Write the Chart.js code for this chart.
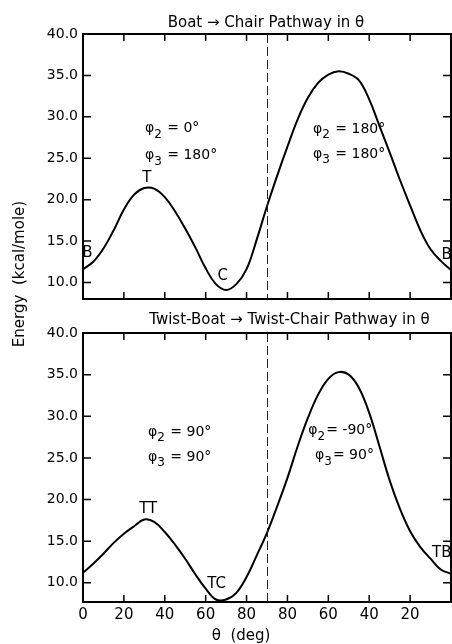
<!DOCTYPE html>
<html><head><meta charset="utf-8">
<script src="https://cdn.jsdelivr.net/npm/chart.js@4.4.0/dist/chart.umd.min.js"></script>
<style>
html,body{margin:0;padding:0;background:#fff;}
#wrap{position:relative;width:452px;height:644px;overflow:hidden;}
canvas{position:absolute;left:0;top:0;}
</style></head><body>
<div id="wrap"><canvas id="c1" width="452" height="644"></canvas><canvas id="c2" width="452" height="644"></canvas></div>
<script>
// ---- data (theta runs 0→90 then back 90→0, plotted on a 0–180 path axis) ----
const pathTheta = [0,5,10,15,20,25,30,35,40,45,50,55,60,65,70,75,80,85,90,95,100,105,110,115,120,125,130,135,140,145,150,155,160,165,170,175,180];
const topEnergy = [11.6,12.5,14.1,16.3,18.8,20.6,21.4,21.3,20.3,18.6,16.5,14.2,11.7,9.8,9.1,9.8,11.6,15.2,19.2,22.9,26.4,29.7,32.3,34.1,35.1,35.5,35.2,34.4,32.1,28.9,25.7,22.4,19.3,16.3,14.0,12.6,11.5];
const botEnergy = [11.2,12.3,13.5,14.8,15.9,16.8,17.6,17.3,16.1,14.6,12.9,11.0,9.3,8.0,8.0,8.8,10.7,13.3,16.0,19.2,22.6,26.4,29.8,32.6,34.5,35.3,35.0,33.4,30.4,26.4,22.3,18.9,16.2,14.3,12.9,11.6,11.1];

const yTickValues = [10,15,20,25,30,35,40];
const xTickValues = [0,20,40,60,80,100,120,140,160,180];
const xTickLabels = ['0','20','40','60','80','80','60','40','20',''];
const turnTheta = 90;

const topTitle = 'Boat \u2192 Chair Pathway in \u03b8';
const bottomTitle = 'Twist-Boat \u2192 Twist-Chair Pathway in \u03b8';
const yAxisTitle = 'Energy  (kcal/mole)';
const xAxisTitle = '\u03b8  (deg)';
const topPointLabels = ['B','T','C','B'];
const bottomPointLabels = ['TT','TC','TB'];
const topAngleLabels = [['\u03c6','2',' = 0\u00b0'],['\u03c6','3',' = 180\u00b0'],['\u03c6','2',' = 180\u00b0'],['\u03c6','3',' = 180\u00b0']];
const bottomAngleLabels = [['\u03c6','2',' = 90\u00b0'],['\u03c6','3',' = 90\u00b0'],['\u03c6','2','= -90\u00b0'],['\u03c6','3','= 90\u00b0']];

// label anchors in data coordinates (path-theta, energy)
const topPointAnchors = [[2.2,13.5],[31.2,22.6],[68.3,10.8],[177.9,13.3]];
const bottomPointAnchors = [[31.9,18.8],[65.4,9.9],[175.5,13.6]];
const topAngleAnchors = [[30.3,28.6],[30.3,25.3],[112.5,28.5],[112.5,25.5]];
const bottomAngleAnchors = [[31.8,28.1],[31.8,25.1],[110.2,28.3],[113.5,25.3]];

const FONT = '"DejaVu Sans", "Liberation Sans", sans-serif';

function drawRich(ctx, x, y, parts) {
  ctx.textBaseline = 'middle'; ctx.textAlign = 'left';
  ctx.font = '14px ' + FONT;
  ctx.fillText(parts[0], x, y);
  x += ctx.measureText(parts[0]).width;
  ctx.font = '12px ' + FONT;
  ctx.fillText(parts[1], x, y + 6);
  x += ctx.measureText(parts[1]).width + 1;
  ctx.font = '14px ' + FONT;
  ctx.fillText(parts[2], x, y);
}

function panelPlugin(cfg) {
  return {
    id: 'panel' + cfg.name,
    afterDraw(chart) {
      const ctx = chart.ctx, a = chart.chartArea;
      const xs = chart.scales.x, ys = chart.scales.y;
      ctx.save();
      // dashed turning line
      ctx.strokeStyle = '#222'; ctx.lineWidth = 1; ctx.setLineDash([9,4]);
      const xd = Math.round(xs.getPixelForValue(turnTheta)) + 0.5;
      ctx.beginPath(); ctx.moveTo(xd, a.top); ctx.lineTo(xd, a.bottom); ctx.stroke();
      ctx.setLineDash([]);
      // frame
      ctx.strokeStyle = '#000'; ctx.lineWidth = 2;
      ctx.strokeRect(a.left, a.top, a.right - a.left, a.bottom - a.top);
      // inward ticks
      ctx.lineWidth = 1.5;
      xTickValues.forEach(v => {
        if (v <= 0 || v >= 180) return;
        const px = xs.getPixelForValue(v);
        ctx.beginPath();
        ctx.moveTo(px, a.top); ctx.lineTo(px, a.top + 7);
        ctx.moveTo(px, a.bottom); ctx.lineTo(px, a.bottom - 7);
        ctx.stroke();
      });
      yTickValues.forEach(v => {
        const py = ys.getPixelForValue(v);
        if (py <= a.top + 1) return;
        ctx.beginPath();
        ctx.moveTo(a.left, py); ctx.lineTo(a.left + 8, py);
        ctx.moveTo(a.right, py); ctx.lineTo(a.right - 8, py);
        ctx.stroke();
      });
      // title
      ctx.fillStyle = '#000';
      ctx.font = '15px ' + FONT; ctx.textAlign = 'center'; ctx.textBaseline = 'middle';
      ctx.fillText(cfg.title, xs.getPixelForValue(cfg.titleAt), a.top - cfg.titleGap);
      // point labels
      ctx.font = '15px ' + FONT;
      cfg.pointLabels.forEach((t, i) => {
        const p = cfg.pointAnchors[i];
        ctx.fillText(t, xs.getPixelForValue(p[0]), ys.getPixelForValue(p[1]));
      });
      // angle labels
      cfg.angleLabels.forEach((parts, i) => {
        const p = cfg.angleAnchors[i];
        drawRich(ctx, xs.getPixelForValue(p[0]), ys.getPixelForValue(p[1]), parts);
      });
      if (cfg.extra) cfg.extra(chart, ctx);
      ctx.restore();
    }
  };
}

function makeChart(id, thetas, energies, yMin, padding, showX, plugin) {
  return new Chart(document.getElementById(id), {
    type: 'line',
    data: { datasets: [{
      data: thetas.map((t, i) => ({x: t, y: energies[i]})),
      borderColor: '#000', borderWidth: 2, pointRadius: 0,
      tension: 0.4, fill: false
    }]},
    options: {
      responsive: false, animation: false, devicePixelRatio: 1,
      layout: { padding: padding },
      plugins: { legend: {display: false}, tooltip: {enabled: false}, title: {display: false} },
      scales: {
        x: {
          type: 'linear', min: 0, max: 180, display: showX,
          grid: {display: false, drawTicks: false}, border: {display: false},
          afterBuildTicks: s => { s.ticks = xTickValues.map(v => ({value: v})); },
          afterFit: s => { s.height = showX ? 42 : 0; s.paddingLeft = 0; s.paddingRight = 0; },
          ticks: { autoSkip: false, maxRotation: 0, padding: 4, color: '#000',
                   font: {family: FONT, size: 15},
                   callback: (v, i) => xTickLabels[i] }
        },
        y: {
          type: 'linear', min: yMin, max: 40,
          grid: {display: false, drawTicks: false}, border: {display: false},
          afterBuildTicks: s => { s.ticks = yTickValues.map(v => ({value: v})); },
          afterFit: s => { s.width = 83; s.paddingTop = 0; s.paddingBottom = 0; },
          ticks: { padding: 5, color: '#000', font: {family: FONT, size: 14},
                   callback: v => Number(v).toFixed(1) }
        }
      }
    },
    plugins: [plugin]
  });
}

makeChart('c1', pathTheta, topEnergy, 8.0, {top: 34, bottom: 345, left: 0, right: 1}, false,
  panelPlugin({name: 'A', title: topTitle, titleAt: 89.5, titleGap: 11,
    pointLabels: topPointLabels, pointAnchors: topPointAnchors,
    angleLabels: topAngleLabels, angleAnchors: topAngleAnchors,
    extra: (chart, ctx) => {
      ctx.save();
      ctx.translate(20, 274); ctx.rotate(-Math.PI / 2);
      ctx.font = '15px ' + FONT; ctx.textAlign = 'center'; ctx.textBaseline = 'middle';
      ctx.fillText(yAxisTitle, 0, 0);
      ctx.restore();
    }}));

makeChart('c2', pathTheta, botEnergy, 7.7, {top: 333, bottom: 0, left: 0, right: 1}, true,
  panelPlugin({name: 'B', title: bottomTitle, titleAt: 101, titleGap: 13,
    pointLabels: bottomPointLabels, pointAnchors: bottomPointAnchors,
    angleLabels: bottomAngleLabels, angleAnchors: bottomAngleAnchors,
    extra: (chart, ctx) => {
      ctx.font = '15px ' + FONT; ctx.textAlign = 'center'; ctx.textBaseline = 'middle';
      ctx.fillText(xAxisTitle, chart.scales.x.getPixelForValue(77.3), 636);
    }}));
</script>
</body></html>
